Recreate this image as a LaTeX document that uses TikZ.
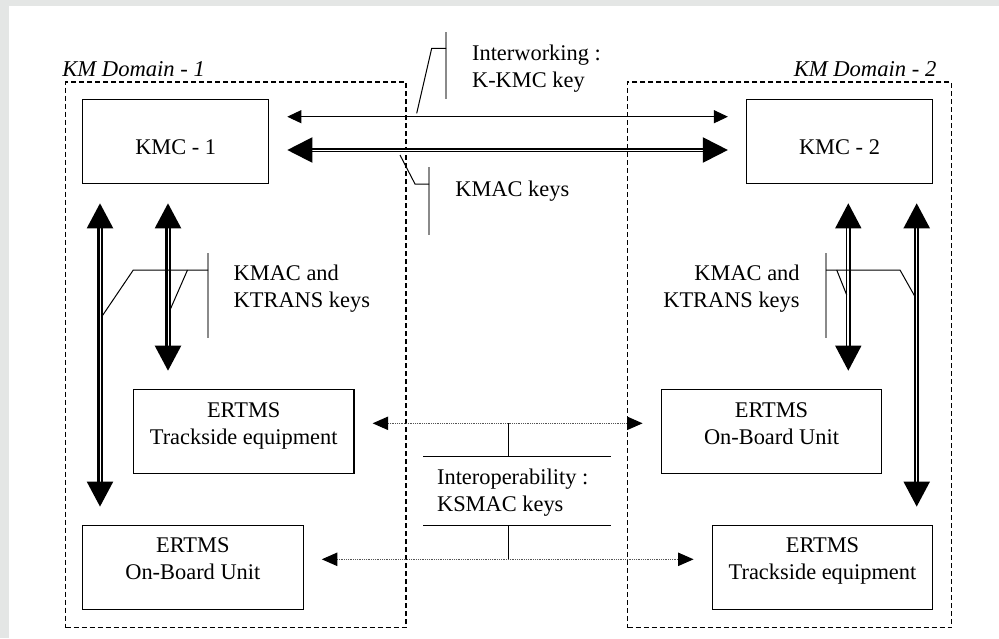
\documentclass[tikz,border=0pt]{standalone}
\usepackage{fontspec}
\setmainfont{Liberation Serif}
\usetikzlibrary{arrows.meta}
\definecolor{pagegray}{HTML}{E4E6E5}
\definecolor{bargray}{HTML}{8A8A8A}
\definecolor{dotgray}{HTML}{555555}

\begin{document}
\begin{tikzpicture}[
  x=0.5pt, y=-0.5pt,
  every node/.style={font=\fontsize{11.2}{13.5}\selectfont},
  kmcbox/.style={rectangle, draw, line width=0.6pt, minimum width=93pt, inner xsep=0pt, inner ysep=0pt, text height=27.35pt, text depth=14.65pt},
  ertmsbox/.style={rectangle, draw, line width=0.6pt, minimum width=110.3pt, align=center, inner xsep=0pt, inner ysep=0pt, text height=27.35pt, text depth=14.65pt},
  kmdomain/.style={rectangle, draw, dash pattern=on 2.5pt off 1.5pt, line width=0.6pt, inner sep=0pt},
  domlabel/.style={font=\fontsize{11.3}{13.5}\selectfont\itshape, inner sep=0pt},
  keytext/.style={align=left, inner sep=0pt},
  link/.style={shorten <=9pt, shorten >=9pt},
  kkmc/.style={link, {Triangle[length=7pt,width=6.5pt]}-{Triangle[length=7pt,width=6.5pt]}, line width=0.5pt},
  kmac/.style={link, {Triangle[length=12.5pt,width=12.5pt]}-{Triangle[length=12.5pt,width=12.5pt]}, double, line width=1pt, double distance=0.45pt},
  kmacv/.style={link, shorten <=9.7pt, {Triangle[length=12.5pt,width=13pt]}-{Triangle[length=12.5pt,width=13pt]}, double, line width=1.1pt, double distance=0.45pt},
  kmacthin/.style={kmacv, line width=0.7pt, double distance=1pt},
  ksmac/.style={link, {Triangle[length=7.8pt,width=6.7pt,color=black]}-{Triangle[length=7.8pt,width=6.7pt,color=black]}, draw=dotgray, line width=0.55pt, dash pattern=on 0.45pt off 0.45pt},
  callbar/.style={draw=bargray, line width=0.55pt},
  leader/.style={draw=black, line width=0.5pt}
]
\useasboundingbox (0,0) rectangle (999,638);
\fill[pagegray] (0,0) rectangle (999,638);
\fill[white] (8.7,5.7) rectangle (999,638);

\node[kmdomain, minimum width=170.15pt, minimum height=272.85pt] (dom1) at (235.85,354.85) {};
\node[kmdomain, minimum width=162pt, minimum height=272.85pt] (dom2) at (789.7,354.85) {};
\node[domlabel, anchor=base west] (dom1lbl) at (62,76.7) {KM Domain - 1};
\node[domlabel, anchor=base east] (dom2lbl) at (936.7,76.7) {KM Domain - 2};

\node[kmcbox] (kmc1) at (175.7,141.3) {KMC - 1};
\node[kmcbox] (kmc2) at (839.5,141.3) {KMC - 2};
\node[ertmsbox] (tse1) at (243.7,431.3) {ERTMS\\Trackside equipment};
\node[ertmsbox] (obu1) at (192.85,567.2) {ERTMS\\On-Board Unit};
\node[ertmsbox] (obu2) at (771.5,431.3) {ERTMS\\On-Board Unit};
\node[ertmsbox] (tse2) at (822.5,567.2) {ERTMS\\Trackside equipment};

\node[keytext, anchor=base west] (iwlbl) at (471.7,87) {Interworking :\\K-KMC key};
\node[keytext, anchor=base west] (kmaclbl) at (455,196) {KMAC keys};
\node[keytext, anchor=base west] (kt1lbl) at (233.3,307) {KMAC and\\KTRANS keys};
\node[keytext, align=right, anchor=base east] (kt2lbl) at (800,307) {KMAC and\\KTRANS keys};
\node[keytext, anchor=base west] (iolbl) at (436.7,511.5) {Interoperability :\\KSMAC keys};

\draw[kkmc] (kmc1.east |- 0,116.7) -- (kmc2.west |- 0,116.7);
\draw[kmac] (kmc1.east |- 0,150) -- (kmc2.west |- 0,150);
\draw[kmacv] (kmc1.south -| 100,0) -- (obu1.north -| 100,0);
\draw[kmacv] (kmc1.south -| 168,0) -- (tse1.north -| 168,0);
\draw[kmacthin] (kmc2.south -| 848.3,0) -- (obu2.north -| 848.3,0);
\draw[kmacv] (kmc2.south -| 916.7,0) -- (tse2.north -| 916.7,0);
\draw[ksmac] (tse1.east |- 0,423.3) -- (obu2.west |- 0,423.3);
\draw[ksmac] (obu1.east |- 0,559.3) -- (tse2.west |- 0,559.3);

\draw[callbar] (446,32) -- (446,99);
\draw[leader] (446,48.3) -- (431.7,48.3) -- (416.7,113.3);
\draw[callbar] (429,167) -- (429,235);
\draw[leader] (429,184) -- (415,184) -- (400,155);
\draw[callbar] (208,253) -- (208,338);
\draw[leader] (208,270) -- (133.3,270) -- (101.7,316.7);
\draw[leader] (187.5,270) -- (170,310);
\draw[callbar] (826,253) -- (826,338);
\draw[leader] (826,270) -- (900,270) -- (915,296.7);
\draw[leader] (836.7,270) -- (846.7,295);
\draw[leader] (508.3,423.3) -- (508.3,456.7);
\draw[leader] (423.3,456.7) -- (611,456.7);
\draw[leader] (423.3,525) -- (611,525);
\draw[leader] (508.3,525) -- (508.3,559.3);
\end{tikzpicture}
\end{document}
